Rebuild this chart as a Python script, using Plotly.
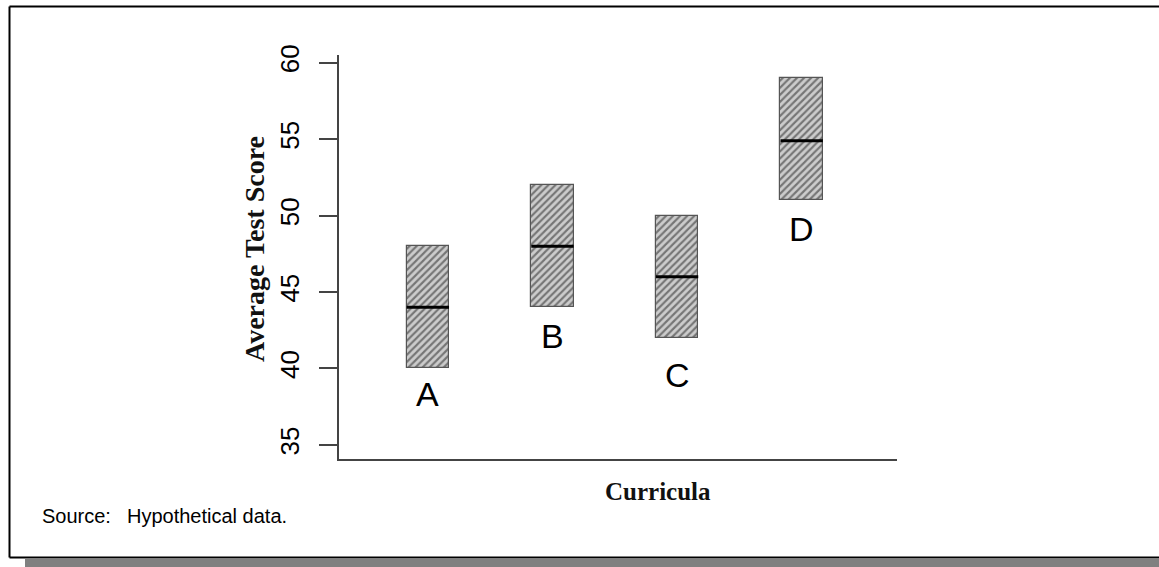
import plotly.graph_objects as go

# ---- data ----
curricula = ["A", "B", "C", "D"]
x_pos = [1, 2, 3, 4]
low = [40, 44, 42, 51]
high = [48, 52, 50, 59]
median = [44, 48, 46, 54.9]
label_y = [38.3, 42.1, 39.6, 49.1]
y_ticks = [35, 40, 45, 50, 55, 60]

W, H = 1159, 567
box_w = 0.34


def px(x):
    return x / W


def py(y):
    return 1 - y / H


fig = go.Figure()

fig.add_trace(go.Bar(
    x=x_pos,
    y=[h - l for h, l in zip(high, low)],
    base=low,
    width=box_w,
    marker=dict(
        color="#b8b8b8",
        line=dict(color="#555555", width=1.2),
        pattern=dict(shape="/", fgcolor="#1e1e1e", bgcolor="#cccccc",
                     size=5, solidity=0.42, fillmode="overlay"),
    ),
    showlegend=False,
    hoverinfo="skip",
))

# median lines
mx, my = [], []
for xi, m in zip(x_pos, median):
    mx += [xi - box_w / 2, xi + box_w / 2, None]
    my += [m, m, None]
fig.add_trace(go.Scatter(x=mx, y=my, mode="lines",
                         line=dict(color="black", width=3),
                         showlegend=False, hoverinfo="skip"))

# letter labels
for xi, c, ly in zip(x_pos, curricula, label_y):
    fig.add_annotation(x=xi, y=ly, text=c, showarrow=False,
                       font=dict(family="Liberation Sans, Arial", size=34, color="black"),
                       xref="x", yref="y")

# axis titles as annotations
fig.add_annotation(x=px(658), y=py(491), xref="paper", yref="paper",
                   text="<b>Curricula</b>", showarrow=False,
                   font=dict(family="Liberation Serif, Times New Roman", size=25, color="#111111"),
                   xanchor="center", yanchor="middle")
fig.add_annotation(x=px(255), y=py(249), xref="paper", yref="paper",
                   text="<b>Average Test Score</b>", showarrow=False, textangle=-90,
                   font=dict(family="Liberation Serif, Times New Roman", size=28, color="#111111"),
                   xanchor="center", yanchor="middle")

# source line
fig.add_annotation(x=px(40), y=py(516), xref="paper", yref="paper",
                   text="Source:", showarrow=False, xanchor="left", yanchor="middle",
                   font=dict(family="Liberation Sans, Arial", size=20, color="black"))
fig.add_annotation(x=px(125), y=py(516), xref="paper", yref="paper",
                   text="Hypothetical data.", showarrow=False, xanchor="left", yanchor="middle",
                   font=dict(family="Liberation Sans, Arial", size=20, color="black"))

# frame and shadow
fig.add_shape(type="rect", xref="paper", yref="paper",
              x0=px(25), x1=1.0, y0=0, y1=py(559),
              fillcolor="#808080", line=dict(width=0), layer="below")
fig.add_shape(type="line", xref="paper", yref="paper",
              x0=px(9.5), x1=1.0, y0=py(6.5), y1=py(6.5),
              line=dict(color="black", width=2))
fig.add_shape(type="line", xref="paper", yref="paper",
              x0=px(9.5), x1=1.0, y0=py(557.5), y1=py(557.5),
              line=dict(color="black", width=2))
fig.add_shape(type="line", xref="paper", yref="paper",
              x0=px(9.5), x1=px(9.5), y0=py(6.5), y1=py(557.5),
              line=dict(color="black", width=2))

fig.update_layout(
    width=W, height=H,
    margin=dict(l=0, r=0, t=0, b=0),
    paper_bgcolor="white", plot_bgcolor="white",
    xaxis=dict(domain=[px(339), px(897)], range=[0.287, 4.765],
               showgrid=False, zeroline=False, automargin=False,
               showticklabels=False, ticks="", showline=True,
               linecolor="#444444", linewidth=2),
    yaxis=dict(domain=[py(459), py(55)], range=[34.08, 60.5],
               showgrid=False, zeroline=False, automargin=False,
               tickvals=y_ticks, ticktext=[str(v) for v in y_ticks],
               ticks="outside", ticklen=18, tickwidth=2, tickcolor="#444444",
               showline=True, linecolor="#444444", linewidth=2,
               tickangle=-90, ticklabelstandoff=10,
               tickfont=dict(family="Liberation Sans, Arial", size=26, color="black")),
    bargap=0,
)

fig.write_html("out.html",
               config={"displayModeBar": False},
               post_script="document.body.style.margin='0';document.body.style.overflow='hidden';")
